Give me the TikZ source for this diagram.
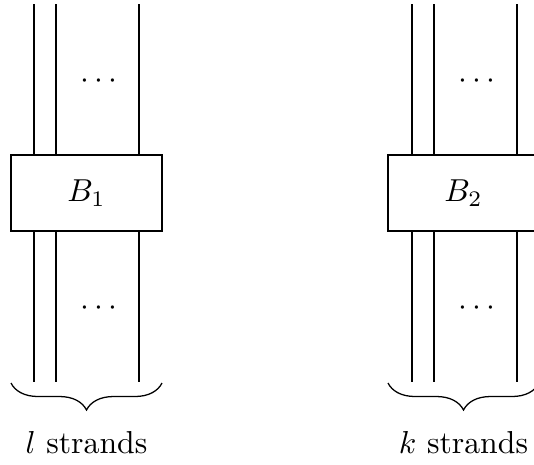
\documentclass[tikz,border=0pt]{standalone}
\usetikzlibrary{decorations.pathreplacing}
\tikzset{
  strand/.style={line width=0.6pt},
  bbox/.style={draw, line width=0.6pt, fill=white, minimum width=151*0.315pt, minimum height=76*0.315pt, inner sep=0pt},
  bracestyle/.style={decorate, decoration={brace, mirror, amplitude=8.5pt}, line width=0.4pt},
  lbl/.style={anchor=base, inner sep=0pt},
  dotsnode/.style={anchor=base, inner sep=0pt}
}
\begin{document}
\begin{tikzpicture}[x=0.315pt, y=-0.315pt]
\useasboundingbox (0,0) rectangle (534,464);
\clip (0,0) rectangle (534,464);
% left block
\node[bbox] (b1) at (86.5,193) {$B_1$};
\foreach \i/\x in {a/34, b/56, c/139} {
  \coordinate (l\i top) at (\x,4);
  \coordinate (l\i bot) at (\x,382);
  \draw[strand] (l\i top) -- (\x,155);
  \draw[strand] (\x,231) -- (l\i bot);
}
\node[dotsnode] (ld1) at (99,88) {$\cdots$};
\node[dotsnode] (ld2) at (99,315) {$\cdots$};
\coordinate (lbl1) at (11,383);
\coordinate (lbr1) at (162,383);
\draw[bracestyle] (lbl1) -- (lbr1);
\node[lbl] (lt) at (86.5,453) {$l$ strands};
% right block
\node[bbox] (b2) at (463.5,193) {$B_2$};
\foreach \i/\x in {a/412, b/434, c/517} {
  \coordinate (r\i top) at (\x,4);
  \coordinate (r\i bot) at (\x,382);
  \draw[strand] (r\i top) -- (\x,155);
  \draw[strand] (\x,231) -- (r\i bot);
}
\node[dotsnode] (rd1) at (477,88) {$\cdots$};
\node[dotsnode] (rd2) at (477,315) {$\cdots$};
\coordinate (rbl) at (388,383);
\coordinate (rbr) at (539,383);
\draw[bracestyle] (rbl) -- (rbr);
\node[lbl] (rt) at (463.5,453) {$k$ strands};
\end{tikzpicture}
\end{document}
